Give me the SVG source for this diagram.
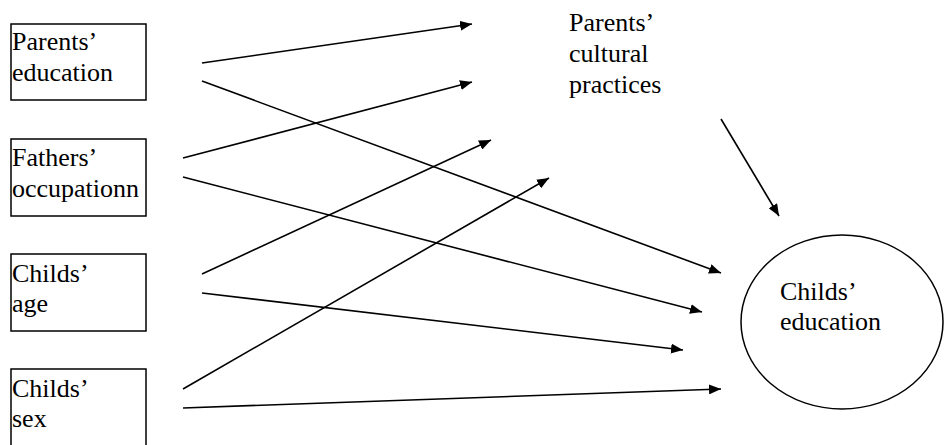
<svg xmlns="http://www.w3.org/2000/svg" width="944" height="445" viewBox="0 0 944 445">
<defs>
<marker id="ah" markerUnits="userSpaceOnUse" markerWidth="12" markerHeight="10" viewBox="0 0 12 10" refX="12" refY="5" orient="auto">
<path d="M0,0 L12,5 L0,10 Z" fill="#000"/>
</marker>
</defs>
<rect width="944" height="445" fill="#fff"/>
<g id="parents-education">
<rect x="11" y="24" width="135" height="76" fill="#fff" stroke="#000" stroke-width="1.5"/>
<text x="12" y="50" font-family="Liberation Serif" font-size="26">Parents’</text>
<text x="12" y="81" font-family="Liberation Serif" font-size="26">education</text>
</g>
<g id="fathers-occupation">
<rect x="11" y="139" width="135" height="77" fill="#fff" stroke="#000" stroke-width="1.5"/>
<text x="12" y="166" font-family="Liberation Serif" font-size="26">Fathers’</text>
<text x="12" y="197" font-family="Liberation Serif" font-size="26">occupationn</text>
</g>
<g id="childs-age">
<rect x="11" y="254" width="135" height="77" fill="#fff" stroke="#000" stroke-width="1.5"/>
<text x="12" y="282" font-family="Liberation Serif" font-size="26">Childs’</text>
<text x="12" y="312" font-family="Liberation Serif" font-size="26">age</text>
</g>
<g id="childs-sex">
<rect x="11" y="369" width="135" height="90" fill="#fff" stroke="#000" stroke-width="1.5"/>
<text x="12" y="397" font-family="Liberation Serif" font-size="26">Childs’</text>
<text x="12" y="427" font-family="Liberation Serif" font-size="26">sex</text>
</g>
<g id="parents-cultural-practices">
<text x="569" y="31" font-family="Liberation Serif" font-size="26">Parents’</text>
<text x="569" y="62" font-family="Liberation Serif" font-size="26">cultural</text>
<text x="569" y="93" font-family="Liberation Serif" font-size="26">practices</text>
</g>
<g id="childs-education">
<ellipse cx="842" cy="322" rx="101" ry="87" fill="#fff" stroke="#000" stroke-width="1.5"/>
<text x="780" y="300" font-family="Liberation Serif" font-size="26">Childs’</text>
<text x="780" y="330" font-family="Liberation Serif" font-size="26">education</text>
</g>
<g id="connectors" stroke="#000" stroke-width="1.6" marker-end="url(#ah)">
<line x1="202" y1="63" x2="472" y2="24"/>
<line x1="202" y1="81" x2="721" y2="273"/>
<line x1="183" y1="158" x2="472" y2="82"/>
<line x1="183" y1="177" x2="702" y2="312"/>
<line x1="202" y1="274" x2="491" y2="140"/>
<line x1="202" y1="293" x2="683" y2="350"/>
<line x1="183" y1="389" x2="549" y2="178"/>
<line x1="183" y1="408" x2="721" y2="389"/>
<line x1="721" y1="119" x2="779" y2="216"/>
</g>
</svg>
